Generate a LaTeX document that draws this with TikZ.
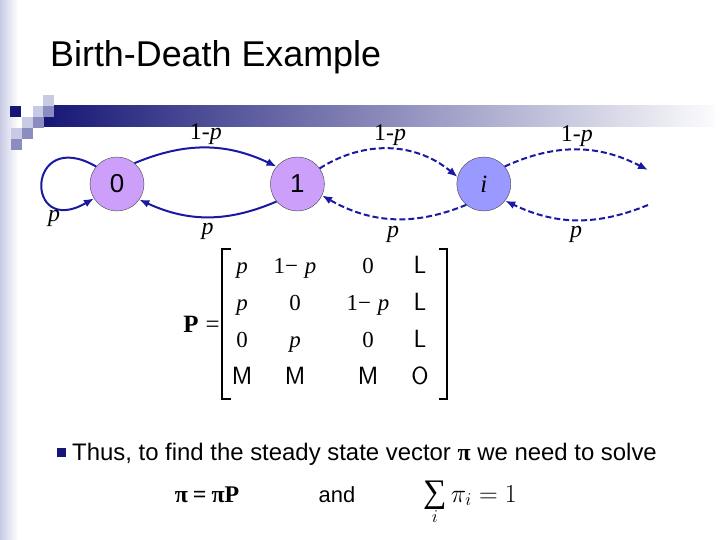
\RequirePackage{fix-cm}
\documentclass[tikz,border=0pt]{standalone}
\usepackage{fontspec}
\setmainfont{Liberation Sans}
\newfontfamily\timesfont{Liberation Serif}
\usetikzlibrary{arrows.meta,positioning,matrix,calc}
\definecolor{slidenavy}{RGB}{22,22,118}
\definecolor{slidelav}{RGB}{200,202,228}
\definecolor{slidemid}{RGB}{140,140,192}
\definecolor{edgeblue}{RGB}{25,25,165}
\definecolor{statelilac}{RGB}{204,160,250}
\definecolor{stateblue}{RGB}{153,153,255}
\newcommand{\bigsum}{\mathop{\hbox{\timesfont\fontsize{33}{33}\selectfont ∑}}\limits}

\begin{document}
\begin{tikzpicture}[
  x=1bp,y=1bp,
  state/.style={circle,draw=black!75,thin,fill=statelilac,minimum size=54bp,
    inner sep=0pt,font=\fontsize{26}{28}\selectfont},
  trans/.style={-{Latex[length=10bp,width=8bp]},line width=2bp,draw=edgeblue},
  far/.style={trans,dash pattern=on 6bp off 3bp},
  lbl/.style={font=\timesfont\fontsize{24}{26}\selectfont,inner sep=2bp},
  cell/.style={font=\timesfont\fontsize{23}{26}\selectfont,text height=15bp,
    text depth=5bp,inner ysep=8.5bp,inner xsep=0pt},
  brack/.style={line width=1.6bp,draw=black},
  bullet/.style={fill=slidenavy,minimum size=9bp,inner sep=0pt},
  body/.style={font=\fontsize{24}{28}\selectfont,inner sep=0pt}
]
\useasboundingbox (0,0) rectangle (720,-540);
\fill[white] (0,0) rectangle (720,-540);
\shade[left color=slidelav,right color=white] (0,0) rectangle (18,-540);
\shade[left color=slidenavy,right color=white!94!slidelav] (43,-106) rectangle (715,-127);
\foreach \x/\y/\c in {10/106/slidenavy,43/95/slidelav,33/106/slidelav,43/106/slidemid,
  22/117/slidelav,33/117/slidemid,11/128/slidelav,22/128/slidemid,11/139/slidemid}
  \fill[\c] (\x,-\y) rectangle ++(11,-11);

\node[anchor=base west,inner sep=0pt,font=\fontsize{36}{40}\selectfont] (title) at (50,-67) {Birth-Death Example};

\node[state] (s0) at (117,-184) {0};
\node[state,right=126bp of s0] (s1) {1};
\node[state,fill=stateblue,right=132bp of s1,font=\timesfont\itshape\fontsize{25}{27}\selectfont] (si) {i};
\coordinate (outtop) at (648,-170);
\coordinate (outbot) at (648,-205);

\draw[trans] (s0.50) to[bend left=24] node[lbl,above] (l01) {1-\textit{p}} (s1.140);
\draw[trans] (s1.220) to[bend left=24] node[lbl,below=3bp] (l10) {\textit{p}} (s0.-35);
\draw[trans] (s0.140) to[out=150,in=210,looseness=6.5] node[lbl,pos=0.82,below left] (l00) {\textit{p}} (s0.212);
\draw[far] (s1.35) to[bend left=36] node[lbl,above] (l1i) {1-\textit{p}} (si.165);
\draw[far] (si.230) to[bend left=26] node[lbl,below=5bp] (li1) {\textit{p}} (s1.-25);
\draw[far] (si.40) to[bend left=26] node[lbl,above] (lio) {1-\textit{p}} (outtop);
\draw[far] (outbot) to[bend left=24] node[lbl,below=3bp] (loi) {\textit{p}} (si.-38);

\matrix (ptrans) [matrix of nodes,inner sep=0pt,column sep=0pt,row sep=0pt,nodes={cell},
  column 1/.style={nodes={minimum width=30bp}},column 2/.style={nodes={minimum width=76bp}},
  column 3/.style={nodes={minimum width=70bp}},column 4/.style={nodes={minimum width=34bp}}]
  at (332,-324) {
  \textit{p} & 1−\hspace{7bp}\textit{p} & 0 & \textsf{\fontsize{25}{26}\selectfont L} \\
  \textit{p} & 0 & 1−\hspace{7bp}\textit{p} & \textsf{\fontsize{25}{26}\selectfont L} \\
  0 & \textit{p} & 0 & \textsf{\fontsize{25}{26}\selectfont L} \\
  \textsf{\fontsize{25}{26}\selectfont M} & \textsf{\fontsize{25}{26}\selectfont M}
    & \textsf{\fontsize{25}{26}\selectfont M} & \textsf{\fontsize{25}{26}\selectfont O} \\
};
\draw[brack] ($(ptrans.north west)+(4,1)$) -| ($(ptrans.south west)+(-5,-1)$) -- ++(9,0);
\draw[brack] ($(ptrans.north east)+(2,1)$) -| ($(ptrans.south east)+(10,-1)$) -- ++(-8,0);
\node[left=7bp of ptrans,inner sep=0pt,font=\timesfont\fontsize{25}{27}\selectfont] (plabel) {\textbf{P}\hspace{7bp}=};

\node[bullet] (bul) at (61,-452.5) {};
\node[body,anchor=base west] (thus) at (72,-460) {Thus, to find the steady state vector {\timesfont\bfseries π} we need to solve};

\node[anchor=base,inner sep=0pt,font=\timesfont\bfseries\fontsize{24}{28}\selectfont] (eqpi) at (207,-502) {π\hspace{5bp}=\hspace{5bp}πP};
\node[anchor=base,inner sep=0pt,font=\fontsize{22}{26}\selectfont] (eqand) at (337,-502) {and};
\node[anchor=base,inner sep=0pt,font=\fontsize{26}{30}\selectfont] (eqsum) at (470,-502) {$\bigsum_i \pi_i = 1$};
\end{tikzpicture}
\end{document}
